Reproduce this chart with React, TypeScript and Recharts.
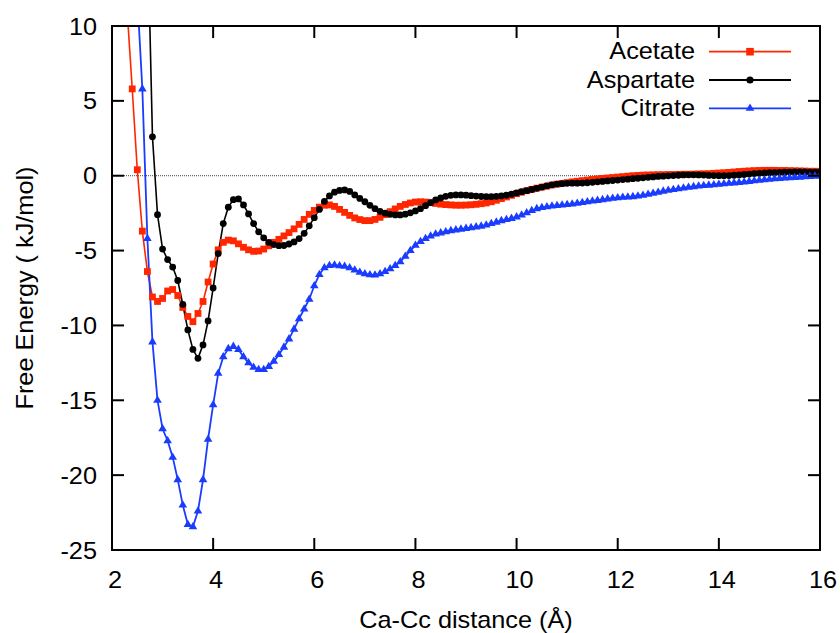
import React from 'react';
import { LineChart, Line, XAxis, YAxis, ReferenceLine } from 'recharts';

// ---------- data ----------
const X = [
  2.3, 2.4, 2.5, 2.6, 2.7, 2.8, 2.9, 3.0, 3.1, 3.2,
  3.3, 3.4, 3.5, 3.6, 3.7, 3.8, 3.9, 4.0, 4.1, 4.2,
  4.3, 4.4, 4.5, 4.6, 4.7, 4.8, 4.9, 5.0, 5.1, 5.2,
  5.3, 5.4, 5.5, 5.6, 5.7, 5.8, 5.9, 6.0, 6.1, 6.2,
  6.3, 6.4, 6.5, 6.6, 6.7, 6.8, 6.9, 7.0, 7.1, 7.2,
  7.3, 7.4, 7.5, 7.6, 7.7, 7.8, 7.9, 8.0, 8.1, 8.2,
  8.3, 8.4, 8.5, 8.6, 8.7, 8.8, 8.9, 9.0, 9.1, 9.2,
  9.3, 9.4, 9.5, 9.6, 9.7, 9.8, 9.9, 10.0, 10.1, 10.2,
  10.3, 10.4, 10.5, 10.6, 10.7, 10.8, 10.9, 11.0, 11.1, 11.2,
  11.3, 11.4, 11.5, 11.6, 11.7, 11.8, 11.9, 12.0, 12.1, 12.2,
  12.3, 12.4, 12.5, 12.6, 12.7, 12.8, 12.9, 13.0, 13.1, 13.2,
  13.3, 13.4, 13.5, 13.6, 13.7, 13.8, 13.9, 14.0, 14.1, 14.2,
  14.3, 14.4, 14.5, 14.6, 14.7, 14.8, 14.9, 15.0, 15.1, 15.2,
  15.3, 15.4, 15.5, 15.6, 15.7, 15.8, 15.9, 16.0,
];

const ACETATE = [
  11.0, 5.8, 0.4, -3.7, -6.4, -8.1, -8.4, -8.2, -7.7, -7.6,
  -8.0, -8.8, -9.4, -9.75, -9.2, -8.4, -7.1, -5.9, -4.95, -4.45,
  -4.3, -4.35, -4.55, -4.78, -4.95, -5.05, -5.03, -4.9, -4.68, -4.45,
  -4.25, -4.02, -3.8, -3.55, -3.25, -2.92, -2.58, -2.32, -2.1, -1.97,
  -1.95, -2.05, -2.25, -2.45, -2.65, -2.82, -2.93, -3.0, -3.0, -2.92,
  -2.78, -2.6, -2.4, -2.22, -2.05, -1.92, -1.82, -1.76, -1.74, -1.76,
  -1.8, -1.85, -1.9, -1.93, -1.95, -1.97, -1.97, -1.96, -1.94, -1.91,
  -1.87, -1.82, -1.74, -1.64, -1.53, -1.42, -1.31, -1.2, -1.1, -1.0,
  -0.91, -0.83, -0.76, -0.69, -0.62, -0.56, -0.51, -0.46, -0.41, -0.37,
  -0.33, -0.29, -0.25, -0.21, -0.18, -0.15, -0.12, -0.09, -0.06, -0.03,
  0.0, 0.02, 0.04, 0.05, 0.06, 0.07, 0.07, 0.08, 0.08, 0.09,
  0.1, 0.1, 0.11, 0.12, 0.13, 0.14, 0.16, 0.18, 0.2, 0.22,
  0.25, 0.28, 0.3, 0.32, 0.34, 0.35, 0.36, 0.36, 0.36, 0.35,
  0.35, 0.34, 0.33, 0.32, 0.31, 0.3, 0.3, 0.29,
];

const ASPARTATE = [
  null, null, null, null, 17, 2.6, -2.6, -4.9, -5.6, -6.1,
  -7.0, -8.6, -10.3, -11.6, -12.2, -11.3, -9.7, -7.5, -5.2, -3.2,
  -2.1, -1.6, -1.55, -1.95, -2.55, -3.2, -3.75, -4.15, -4.45, -4.6,
  -4.67, -4.66, -4.56, -4.42, -4.2, -3.85, -3.35, -2.8, -2.25, -1.72,
  -1.35, -1.1, -0.98, -0.95, -1.05, -1.28, -1.52, -1.74, -1.98, -2.2,
  -2.38, -2.5, -2.58, -2.62, -2.62, -2.57, -2.48, -2.35, -2.2, -2.0,
  -1.8, -1.62, -1.49, -1.38, -1.31, -1.28, -1.28, -1.3, -1.33, -1.36,
  -1.39, -1.4, -1.4, -1.38, -1.35, -1.3, -1.23, -1.15, -1.07, -1.0,
  -0.92, -0.84, -0.76, -0.68, -0.61, -0.56, -0.53, -0.51, -0.5, -0.5,
  -0.49, -0.47, -0.44, -0.41, -0.38, -0.35, -0.32, -0.29, -0.26, -0.23,
  -0.2, -0.17, -0.14, -0.11, -0.08, -0.05, -0.03, -0.01, 0.01, 0.03,
  0.05, 0.06, 0.06, 0.05, 0.04, 0.02, 0.01, 0.0, 0.0, 0.01,
  0.03, 0.05, 0.08, 0.11, 0.14, 0.16, 0.18, 0.2, 0.21, 0.22,
  0.23, 0.24, 0.25, 0.25, 0.25, 0.24, 0.24, 0.23,
];

const CITRATE = [
  null, null, 12, 5.8, -4.2, -11.1, -15.0, -16.9, -17.7, -18.8,
  -20.3, -22.0, -23.3, -23.45, -22.4, -20.3, -17.6, -15.3, -13.2, -12.1,
  -11.55, -11.4, -11.6, -12.1, -12.5, -12.8, -12.95, -12.95, -12.75, -12.4,
  -11.95, -11.45, -10.9, -10.25, -9.55, -8.9, -8.25, -7.35, -6.6, -6.15,
  -6.0, -5.97, -6.02, -6.05, -6.15, -6.3, -6.45, -6.55, -6.62, -6.63,
  -6.55, -6.4, -6.22, -6.0, -5.75, -5.38, -5.0, -4.65, -4.4, -4.2,
  -4.03, -3.9, -3.82, -3.74, -3.67, -3.62, -3.57, -3.52, -3.47, -3.42,
  -3.37, -3.3, -3.2, -3.1, -3.0, -2.93, -2.85, -2.75, -2.62, -2.48,
  -2.33, -2.2, -2.12, -2.07, -2.03, -1.99, -1.96, -1.93, -1.89, -1.84,
  -1.79, -1.74, -1.69, -1.65, -1.6, -1.55, -1.51, -1.47, -1.44, -1.42,
  -1.4, -1.35, -1.3, -1.24, -1.17, -1.1, -1.03, -0.97, -0.92, -0.87,
  -0.82, -0.77, -0.73, -0.69, -0.66, -0.63, -0.6, -0.57, -0.54, -0.51,
  -0.48, -0.45, -0.42, -0.38, -0.34, -0.3, -0.27, -0.24, -0.21, -0.18,
  -0.16, -0.14, -0.12, -0.1, -0.07, -0.05, -0.03, 0.0,
];

const X_TICKS = [2, 4, 6, 8, 10, 12, 14, 16];
const Y_TICKS = [-25, -20, -15, -10, -5, 0, 5, 10];
const SERIES_NAMES = ['Acetate', 'Aspartate', 'Citrate'];

// ---------- styles / layout ----------
const RED = '#ff2600';
const BLACK = '#000000';
const BLUE = '#1a3cff';
const FONT = '"Liberation Sans", Arial, Helvetica, sans-serif';
const SX = 1.1;

const X_MIN = 2, X_MAX = 16, Y_MIN = -25, Y_MAX = 10;
const W = 840, H = 633;
const M_TOP = 26, M_RIGHT = 20, Y_AXIS_W = 112, X_AXIS_H = 83;
const P_L = Y_AXIS_W, P_R = W - M_RIGHT, P_T = M_TOP, P_B = H - X_AXIS_H;
const TICK_PX = 12;
// frame/tick helpers for the axis box (same geometry the chart uses)
const fx = (v: number) => P_L + ((v - X_MIN) * (P_R - P_L)) / (X_MAX - X_MIN);
const fy = (v: number) => P_T + ((Y_MAX - v) * (P_B - P_T)) / (Y_MAX - Y_MIN);

const rows = X.map((x, i) => ({
  x,
  acetate: ACETATE[i],
  aspartate: ASPARTATE[i],
  citrate: CITRATE[i],
}));

function SText(props: any) {
  const { x, y, anchor = 'middle', size = 23, rotate = 0, children } = props;
  const t = rotate
    ? `translate(${x},${y}) rotate(${rotate}) scale(${SX},1)`
    : `translate(${x},${y}) scale(${SX},1)`;
  return (
    <text transform={t} textAnchor={anchor} fontFamily={FONT} fontSize={size} fill="#000">
      {children}
    </text>
  );
}

const LeftTick = (p: any) => (
  <SText x={p.x - 15} y={p.y + 8.5} anchor="end">{String(p.payload.value)}</SText>
);
const BottomTick = (p: any) => (
  <SText x={p.x + 3} y={p.y + 38} anchor="middle">{String(p.payload.value)}</SText>
);

function Square(cx: number, cy: number, color: string, s = 3.4) {
  return <rect x={cx - s} y={cy - s} width={2 * s} height={2 * s} fill={color} />;
}
function Circle(cx: number, cy: number, color: string, r = 3.4) {
  return <circle cx={cx} cy={cy} r={r} fill={color} />;
}
function Tri(cx: number, cy: number, color: string) {
  return (
    <polygon
      points={`${cx},${cy - 4.8} ${cx - 4.3},${cy + 2.5} ${cx + 4.3},${cy + 2.5}`}
      fill={color}
    />
  );
}

const redDot = (p: any) => (p.cy == null || p.cx == null ? <g /> : Square(p.cx, p.cy, RED));
const blackDot = (p: any) => (p.cy == null || p.cx == null ? <g /> : Circle(p.cx, p.cy, BLACK));
const blueDot = (p: any) => (p.cy == null || p.cx == null ? <g /> : Tri(p.cx, p.cy, BLUE));

const axisLine = { stroke: '#000', strokeWidth: 2 };

export default function App() {
  const legend = [
    { name: SERIES_NAMES[0], color: RED, mark: (x: number, y: number) => Square(x, y, RED, 3.8) },
    { name: SERIES_NAMES[1], color: BLACK, mark: (x: number, y: number) => Circle(x, y, BLACK, 3.6) },
    { name: SERIES_NAMES[2], color: BLUE, mark: (x: number, y: number) => Tri(x, y, BLUE) },
  ];

  return (
    <div style={{ position: 'absolute', left: 0, top: 0, width: W, height: H, background: '#fff' }}>
      <LineChart
        width={W}
        height={H}
        data={rows}
        margin={{ top: M_TOP, right: M_RIGHT, bottom: 0, left: 0 }}
      >
        <XAxis
          dataKey="x"
          type="number"
          domain={[X_MIN, X_MAX]}
          ticks={X_TICKS}
          interval={0}
          allowDataOverflow
          height={X_AXIS_H}
          tickSize={0}
          tickMargin={0}
          tick={BottomTick}
          axisLine={axisLine}
          tickLine={false}
        />
        <YAxis
          type="number"
          domain={[Y_MIN, Y_MAX]}
          ticks={Y_TICKS}
          interval={0}
          allowDataOverflow
          width={Y_AXIS_W}
          tickSize={0}
          tickMargin={0}
          tick={LeftTick}
          axisLine={axisLine}
          tickLine={false}
        />
        <ReferenceLine y={0} stroke="#444" strokeWidth={1} strokeDasharray="1 1" />
        <Line
          dataKey="acetate"
          name={SERIES_NAMES[0]}
          stroke={RED}
          strokeWidth={1.6}
          type="linear"
          dot={redDot}
          activeDot={false}
          isAnimationActive={false}
        />
        <Line
          dataKey="aspartate"
          name={SERIES_NAMES[1]}
          stroke={BLACK}
          strokeWidth={1.6}
          type="linear"
          dot={blackDot}
          activeDot={false}
          isAnimationActive={false}
        />
        <Line
          dataKey="citrate"
          name={SERIES_NAMES[2]}
          stroke={BLUE}
          strokeWidth={1.8}
          type="linear"
          dot={blueDot}
          activeDot={false}
          isAnimationActive={false}
        />
      </LineChart>
      <svg
        width={W}
        height={H}
        style={{ position: 'absolute', left: 0, top: 0, pointerEvents: 'none' }}
      >
        {/* axis box with inward tick marks on all four sides */}
        <rect x={P_L} y={P_T} width={P_R - P_L} height={P_B - P_T} fill="none" stroke="#000" strokeWidth={2} />
        {X_TICKS.map((t) => (
          <g key={`xt${t}`}>
            <line x1={fx(t)} x2={fx(t)} y1={P_B} y2={P_B - TICK_PX} stroke="#000" strokeWidth={2} />
            <line x1={fx(t)} x2={fx(t)} y1={P_T} y2={P_T + TICK_PX} stroke="#000" strokeWidth={2} />
          </g>
        ))}
        {Y_TICKS.map((t) => (
          <g key={`yt${t}`}>
            <line x1={P_L} x2={P_L + TICK_PX} y1={fy(t)} y2={fy(t)} stroke="#000" strokeWidth={2} />
            <line x1={P_R} x2={P_R - TICK_PX} y1={fy(t)} y2={fy(t)} stroke="#000" strokeWidth={2} />
          </g>
        ))}
        <SText x={33} y={288} rotate={-90} anchor="middle">Free Energy ( kJ/mol)</SText>
        <SText x={466} y={628} anchor="middle">Ca-Cc distance (Å)</SText>
        {legend.map((l, i) => {
          const ly = 51.7 + 28.3 * i;
          return (
            <g key={l.name}>
              <SText x={695} y={ly + 7.5} anchor="end">{l.name}</SText>
              <line x1={709} x2={791} y1={ly} y2={ly} stroke={l.color} strokeWidth={1.8} />
              {l.mark(750, ly)}
            </g>
          );
        })}
      </svg>
    </div>
  );
}
